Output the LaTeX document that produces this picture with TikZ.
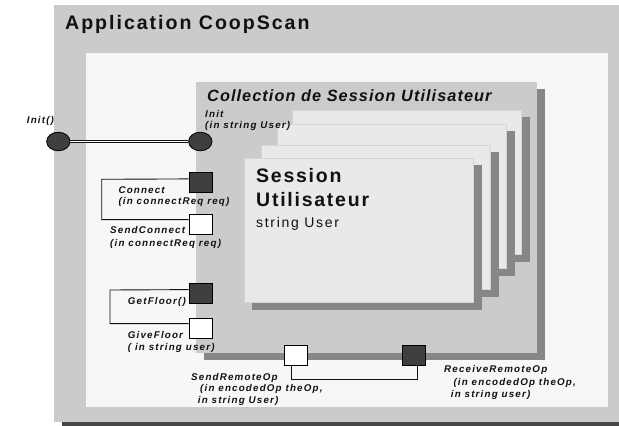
\documentclass[tikz,border=0pt]{standalone}
\usepackage{fontspec}
\setmainfont{Liberation Sans}
\newfontfamily\titlefont[LetterSpace=10]{Liberation Sans}
\newfontfamily\collfont[LetterSpace=6.5]{Liberation Sans}
\newfontfamily\sessfont[LetterSpace=9]{Liberation Sans}
\newfontfamily\userfont[LetterSpace=12]{Liberation Sans}
\newfontfamily\lblfont[LetterSpace=12]{Liberation Sans}
\usetikzlibrary{shapes.geometric}

\definecolor{appgray}{HTML}{CBCBCB}
\definecolor{innerlight}{HTML}{F7F7F7}
\definecolor{shadowgray}{HTML}{878787}
\definecolor{outershade}{HTML}{474747}
\definecolor{cardfill}{HTML}{E9E9E9}
\definecolor{cardedge}{HTML}{D5D5D5}
\definecolor{darkfill}{HTML}{3F3F3F}
\definecolor{ink}{HTML}{111111}

% multi-line labels are placed by the baseline of their last line
\begin{document}
\begin{tikzpicture}[x=1pt,y=-1pt,
  lbl/.style={anchor=base west, inner sep=0, align=left, text=ink,
    font=\lblfont\bfseries\itshape\fontsize{9.8}{12}\selectfont},
  lblsp/.style={font=\lblfont\bfseries\itshape\fontsize{9.8}{#1}\selectfont},
  port/.style={draw=black, line width=0.8pt, minimum width=23pt,
    minimum height=20pt, inner sep=0},
  inport/.style={port, fill=darkfill},
  outport/.style={port, fill=white},
  oval/.style={ellipse, draw=black, line width=0.8pt, fill=darkfill,
    minimum width=23.4pt, minimum height=18.6pt, inner sep=0},
  wire/.style={draw=ink, line width=0.9pt}]

\useasboundingbox (0,0) rectangle (619,426);

% application frame
\fill[appgray] (54,5) rectangle (619,422);
\fill[outershade] (62,422) rectangle (619,426);
\fill[innerlight] (86,53) rectangle (608,407);
\node[anchor=base west, inner sep=0, text=ink,
  font=\titlefont\bfseries\fontsize{19.6}{22}\selectfont]
  (apptitle) at (65,29.3) {Application CoopScan};

% collection container with its shadow
\fill[shadowgray] (204,89) rectangle (545,360);
\fill[appgray] (196,82) rectangle (537,353);
\node[anchor=base west, inner sep=0, text=ink,
  font=\collfont\bfseries\itshape\fontsize{16.3}{19}\selectfont]
  (colltitle) at (207,101.7) {Collection de Session Utilisateur};

% stacked session cards, back to front
\foreach \l/\t in {292/110, 277/124, 261/145, 244/158} {
  \fill[shadowgray] (\l+8,\t+7) rectangle (\l+238,\t+152);
  \filldraw[fill=cardfill, draw=cardedge, line width=0.8pt]
    (\l,\t) rectangle (\l+229,\t+144);
}
\node[anchor=base west, inner sep=0, text=ink, align=left,
  font=\sessfont\bfseries\fontsize{19.5}{24.7}\selectfont]
  (sesstitle) at (256,206.7) {Session\\Utilisateur};
\node[anchor=base west, inner sep=0, text=ink,
  font=\userfont\fontsize{14}{16}\selectfont]
  (sessattr) at (256,227.7) {string User};

% Init interface
\node[oval] (initout) at (58.3,141.5) {};
\node[oval] (initin) at (200.3,141.5) {};
\draw[draw=ink, line width=0.8pt, double=white, double distance=1.3pt]
  (initout.east) -- (initin.west);
\node[lbl] (initoutlbl) at (26.7,123) {Init()};
\node[lbl, lblsp=11] (initinlbl) at (205,128.5) {Init\\(in string User)};

% Connect / SendConnect
\node[inport] (connect) at (200.5,182.3) {};
\node[outport] (sendconnect) at (200.5,224) {};
\draw[wire] ([yshift=-7pt]connect.north west) -- (101.7,179.3)
  |- ([yshift=-6pt]sendconnect.north west);
\node[lbl, lblsp=11] (connectlbl) at (118.3,204.3)
  {Connect\\(in connectReq req)};
\node[lbl, lblsp=13] (sendconnectlbl) at (110,246.3)
  {SendConnect\\(in connectReq req)};

% GetFloor / GiveFloor
\node[inport] (getfloor) at (200.5,293) {};
\node[outport] (givefloor) at (200.5,328) {};
\draw[wire] ([yshift=-7pt]getfloor.north west) -- (110,290)
  |- ([yshift=-6pt]givefloor.north west);
\node[lbl] (getfloorlbl) at (127.7,304) {GetFloor()};
\node[lbl] (givefloorlbl) at (127.7,350) {GiveFloor\\( in string user)};

% SendRemoteOp / ReceiveRemoteOp
\node[outport] (sendop) at (295.7,355.7) {};
\node[inport] (recvop) at (414,355.7) {};
\draw[wire] ([xshift=-4pt]sendop.south) -- ++(0,13.3) -| ([xshift=3.7pt]recvop.south);
\node[lbl, lblsp=11.6] (sendoplbl) at (191,403.3)
  {SendRemoteOp\\\hspace*{9pt}(in encodedOp theOp,\\\hspace*{6.7pt}in string User)};
\node[lbl, lblsp=12.3] (recvoplbl) at (444,397.3)
  {ReceiveRemoteOp\\\hspace*{9.3pt}(in encodedOp theOp,\\\hspace*{6.7pt}in string user)};

\end{tikzpicture}
\end{document}
